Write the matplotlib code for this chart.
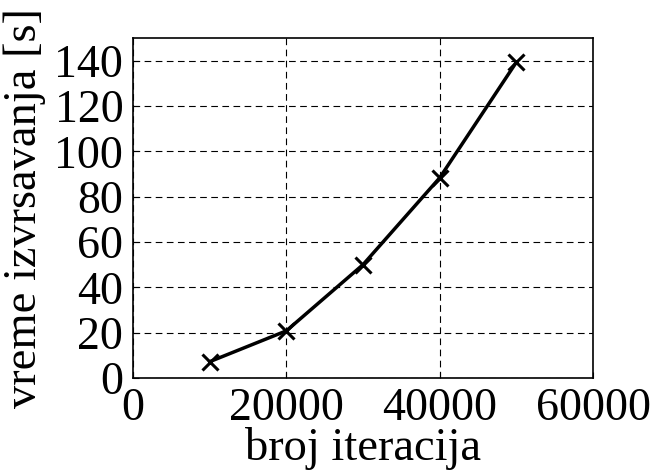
import matplotlib
matplotlib.use('Agg')
from matplotlib import pyplot as plt

iterations = [10000, 20000, 30000, 40000, 50000]
times = [7.2, 20.8, 50.0, 88.3, 139.3]
x_ticks = [0, 20000, 40000, 60000]
y_ticks = [0, 20, 40, 60, 80, 100, 120, 140]

plt.rcParams['font.family'] = ['Liberation Serif', 'DejaVu Serif']

fig = plt.figure(figsize=(6.51, 4.70), dpi=100)
ax = fig.add_axes([133 / 651, 1 - 378 / 470, 460 / 651, 340 / 470])

ax.plot(iterations, times, color='black', linewidth=2.5, marker='x',
        markersize=11, markeredgewidth=2.2)

ax.set_xlim(0, 60000)
ax.set_ylim(0, 150)
ax.set_xticks(x_ticks)
ax.set_yticks(y_ticks)
ax.grid(True, color='black', linestyle=(0, (6, 4)), linewidth=0.8)
ax.tick_params(direction='in', length=4, labelsize=33)
ax.tick_params(axis='x', pad=7)
ax.tick_params(axis='y', pad=7)
for sp in ax.spines.values():
    sp.set_linewidth(1.2)

ax.set_xlabel('broj iteracija', fontsize=33.5)
ax.set_ylabel('vreme izvrsavanja [s]', fontsize=33.5)
ax.xaxis.set_label_coords(0.5, -0.145)
ax.yaxis.set_label_coords(-0.19, 0.5)

fig.savefig('out.png', dpi=100)
